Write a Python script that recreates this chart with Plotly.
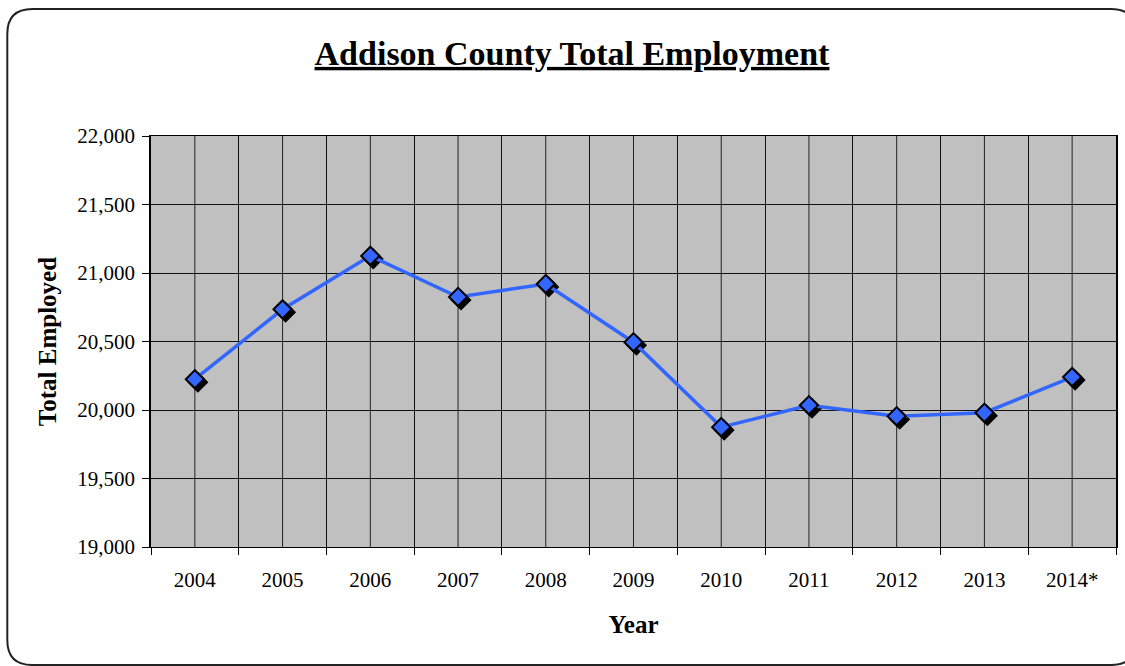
import plotly.graph_objects as go

# ---- data ----
years = ["2004", "2005", "2006", "2007", "2008", "2009", "2010", "2011", "2012", "2013", "2014*"]
employed = [20225, 20735, 21125, 20825, 20920, 20495, 19875, 20035, 19955, 19980, 20240]

y_ticks = [19000, 19500, 20000, 20500, 21000, 21500, 22000]

# ---- layout geometry (pixels) ----
W, H = 1125, 666
ML, MR, MT, MB = 151, 7, 136, 119
PW = W - ML - MR
PH = H - MT - MB

FONT = "Times New Roman, Liberation Serif, serif"
BLUE = "#3366FF"

xr = [-0.5, len(years) - 0.5]
yr = [19000, 22000]

# shadow offset (pixels) converted through axis scales
sh_px = 3
dx = sh_px * (xr[1] - xr[0]) / PW
dy = sh_px * (yr[1] - yr[0]) / PH

fig = go.Figure()

# invisible trace to populate main category axis
fig.add_trace(go.Scatter(x=years, y=employed, mode="lines", line=dict(width=0),
                         opacity=0, hoverinfo="skip", showlegend=False,
                         xaxis="x", yaxis="y"))
# marker shadow
fig.add_trace(go.Scatter(x=years, y=employed, mode="markers",
                         marker=dict(symbol="diamond", size=14, color="black",
                                     line=dict(color="black", width=2)),
                         hoverinfo="skip", showlegend=False,
                         xaxis="x2", yaxis="y2"))
# main series
fig.add_trace(go.Scatter(x=years, y=employed, mode="lines+markers",
                         line=dict(color=BLUE, width=3.5),
                         marker=dict(symbol="diamond", size=14, color=BLUE,
                                     line=dict(color="black", width=2)),
                         showlegend=False, xaxis="x3", yaxis="y3"))

shapes = []
# gridlines at category centres (category index positions on the x scale)
for i, _ in enumerate(years):
    shapes.append(dict(type="line", xref="x", yref="paper", x0=i, x1=i, y0=0, y1=1,
                       line=dict(color="#222222", width=1), layer="below"))

# rounded frame around the whole chart (pixel -> paper)
def px(x):
    return (x - ML) / PW

def py(y):
    return (H - MB - y) / PH

L, T, R, B, r = 7, 9, 1138, 665, 25
path = (f"M {px(L + r)},{py(T)} L {px(R - r)},{py(T)} Q {px(R)},{py(T)} {px(R)},{py(T + r)} "
        f"L {px(R)},{py(B - r)} Q {px(R)},{py(B)} {px(R - r)},{py(B)} "
        f"L {px(L + r)},{py(B)} Q {px(L)},{py(B)} {px(L)},{py(B - r)} "
        f"L {px(L)},{py(T + r)} Q {px(L)},{py(T)} {px(L + r)},{py(T)} Z")
shapes.append(dict(type="path", xref="paper", yref="paper", path=path,
                   line=dict(color="#222222", width=2), layer="above"))

fig.update_layout(
    width=W, height=H,
    margin=dict(l=ML, r=MR, t=MT, b=MB),
    paper_bgcolor="white",
    plot_bgcolor="#C0C0C0",
    font=dict(family=FONT, color="black", size=21),
    title=dict(text="<b><u>Addison County Total Employment</u></b>",
               font=dict(family=FONT, size=34, color="black"),
               x=572 / W, xref="container", xanchor="center",
               y=1 - 53 / H, yref="container", yanchor="middle"),
    xaxis=dict(type="category", range=xr, tickson="boundaries",
               showgrid=True, gridcolor="#111111", gridwidth=1,
               ticks="outside", ticklen=7, tickcolor="black", tickwidth=1,
               showline=True, linecolor="black", linewidth=1, mirror=True,
               tickfont=dict(family=FONT, size=21, color="black"),
               ticklabelstandoff=14,
               title=dict(text="<b>Year</b>", font=dict(family=FONT, size=25, color="black"),
                          standoff=24),
               fixedrange=True),
    yaxis=dict(range=yr, tickvals=y_ticks, tickformat=",",
               showgrid=True, gridcolor="#111111", gridwidth=1,
               ticks="outside", ticklen=7, tickcolor="black", tickwidth=1,
               showline=True, linecolor="black", linewidth=1.5, mirror=True,
               tickfont=dict(family=FONT, size=21, color="black"),
               ticklabelstandoff=3,
               title=dict(text="<b>Total Employed</b>", font=dict(family=FONT, size=25, color="black"),
                          standoff=14),
               zeroline=False, fixedrange=True),
    xaxis2=dict(type="category", overlaying="x", range=[xr[0] - dx, xr[1] - dx],
                visible=False, showgrid=False, fixedrange=True),
    yaxis2=dict(overlaying="y", range=[yr[0] + dy, yr[1] + dy],
                visible=False, showgrid=False, zeroline=False, fixedrange=True),
    xaxis3=dict(type="category", overlaying="x", range=xr,
                visible=False, showgrid=False, fixedrange=True),
    yaxis3=dict(overlaying="y", range=yr,
                visible=False, showgrid=False, zeroline=False, fixedrange=True),
    shapes=shapes,
    showlegend=False,
)

fig.write_html("out.html", config=dict(displayModeBar=False))
